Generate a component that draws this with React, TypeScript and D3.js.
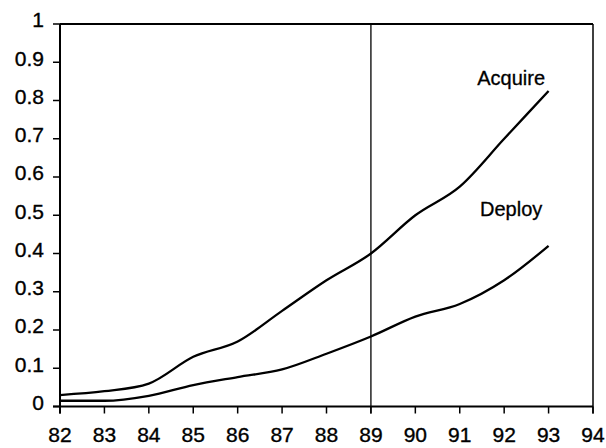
import React from "react";
import * as d3 from "d3";

const years = [82, 83, 84, 85, 86, 87, 88, 89, 90, 91, 92, 93];
const acquire = [0.03, 0.04, 0.06, 0.13, 0.17, 0.25, 0.33, 0.4, 0.5, 0.575, 0.7, 0.825];
const deploy = [0.015, 0.015, 0.028, 0.056, 0.077, 0.097, 0.138, 0.183, 0.235, 0.268, 0.33, 0.42];
const xTicks = [82, 83, 84, 85, 86, 87, 88, 89, 90, 91, 92, 93, 94];
const yTicks = [0, 0.1, 0.2, 0.3, 0.4, 0.5, 0.6, 0.7, 0.8, 0.9, 1];
const markerYear = 89;
const seriesLabels = ["Acquire", "Deploy"];

const W = 606;
const H = 448;
const left = 60;
const right = 593;
const top = 24;
const bottom = 406.5;
const font = "Arial, 'Liberation Sans', sans-serif";

export default function App() {
  const x = d3.scaleLinear().domain([82, 94]).range([left, right]);
  const y = d3.scaleLinear().domain([0, 1]).range([bottom, top]);
  const line = d3
    .line<number>()
    .x((_, i) => x(years[i]))
    .y((d) => y(d))
    .curve(d3.curveMonotoneX);

  return (
    <svg
      width={W}
      height={H}
      style={{ position: "absolute", left: 0, top: 0, background: "#fff" }}
    >
      <rect x={0} y={0} width={W} height={H} fill="#fff" />
      <line x1={left} x2={right} y1={top} y2={top} stroke="#000" strokeWidth={2} />
      <line x1={right} x2={right} y1={top} y2={bottom + 7} stroke="#000" strokeWidth={1.5} />
      <line x1={left} x2={left} y1={top} y2={bottom + 7} stroke="#000" strokeWidth={2} />
      <line x1={left - 7} x2={right} y1={bottom} y2={bottom} stroke="#000" strokeWidth={2} />
      {yTicks.map((t) => (
        <g key={"y" + t}>
          <line x1={left - 7} x2={left} y1={y(t)} y2={y(t)} stroke="#000" strokeWidth={1.5} />
          <text
            x={44}
            y={y(t) - 4}
            dy="0.35em"
            textAnchor="end"
            fontFamily={font}
            fontSize={21}
            fill="#000"
            stroke="#000"
            strokeWidth={0.35}
          >
            {String(t)}
          </text>
        </g>
      ))}
      {xTicks.map((t) => (
        <g key={"x" + t}>
          <line x1={x(t)} x2={x(t)} y1={bottom} y2={bottom + 7} stroke="#000" strokeWidth={1.5} />
          <text
            x={x(t)}
            y={442}
            textAnchor="middle"
            fontFamily={font}
            fontSize={21}
            fill="#000"
            stroke="#000"
            strokeWidth={0.35}
          >
            {String(t)}
          </text>
        </g>
      ))}
      <line
        x1={x(markerYear)}
        x2={x(markerYear)}
        y1={top}
        y2={bottom + 7}
        stroke="#000"
        strokeWidth={1.3}
      />
      <path d={line(acquire) || ""} fill="none" stroke="#000" strokeWidth={2.3} />
      <path d={line(deploy) || ""} fill="none" stroke="#000" strokeWidth={2.3} />
      <text x={545} y={85} textAnchor="end" fontFamily={font} fontSize={20} fill="#000" stroke="#000" strokeWidth={0.3}>
        {seriesLabels[0]}
      </text>
      <text x={480} y={216} textAnchor="start" fontFamily={font} fontSize={20} fill="#000" stroke="#000" strokeWidth={0.3}>
        {seriesLabels[1]}
      </text>
    </svg>
  );
}
